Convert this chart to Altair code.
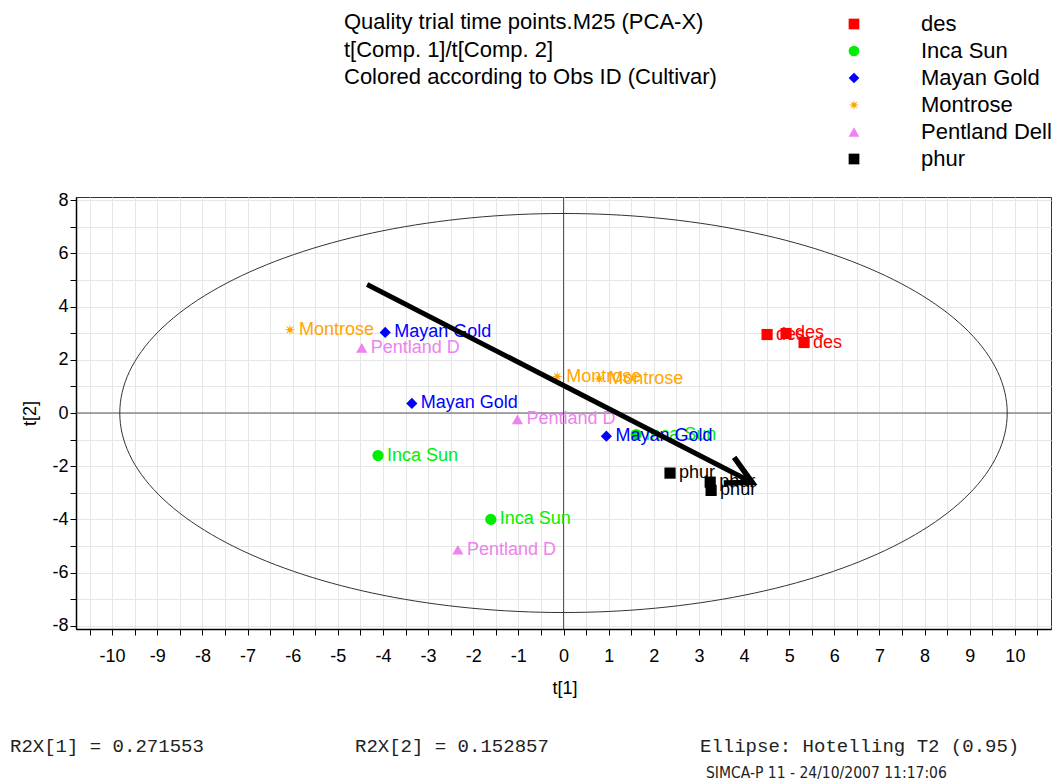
import altair as alt
import pandas as pd
import numpy as np

# ---- data ----
cultivars = ["des", "Inca Sun", "Mayan Gold", "Montrose", "Pentland Dell", "phur"]
colors = ["#FF0000", "#00EE00", "#0000FF", "#FFA500", "#EE82EE", "#000000"]

obs_cultivar = ["des", "des", "des",
                "Inca Sun", "Inca Sun", "Inca Sun",
                "Mayan Gold", "Mayan Gold", "Mayan Gold",
                "Montrose", "Montrose", "Montrose",
                "Pentland Dell", "Pentland Dell", "Pentland Dell",
                "phur", "phur", "phur"]
obs_label = ["des", "des", "des",
             "Inca Sun", "Inca Sun", "Inca Sun",
             "Mayan Gold", "Mayan Gold", "Mayan Gold",
             "Montrose", "Montrose", "Montrose",
             "Pentland D", "Pentland D", "Pentland D",
             "phur", "phur", "phur"]
t1 = [4.51, 4.93, 5.33,
      -4.11, -1.61, 1.61,
      -3.95, -3.36, 0.95,
      -6.06, -0.14, 0.79,
      -4.47, -1.02, -2.34,
      2.36, 3.25, 3.27]
t2 = [2.95, 2.99, 2.65,
      -1.60, -4.00, -0.81,
      3.03, 0.36, -0.87,
      3.13, 1.37, 1.29,
      2.45, -0.24, -5.14,
      -2.26, -2.60, -2.91]

ellipse_a = 9.83   # Hotelling T2 (0.95) semi-axis along t[1]
ellipse_b = 7.50   # semi-axis along t[2]

arrow_t1 = [-4.35, 4.18]
arrow_t2 = [4.83, -2.61]
head_t1 = [3.78, 4.18, 3.55]
head_t2 = [-1.67, -2.61, -2.63]

title_lines = ["Quality trial time points.M25 (PCA-X)",
               "t[Comp. 1]/t[Comp. 2]",
               "Colored according to Obs ID (Cultivar)"]
footer_r2x1 = "R2X[1] = 0.271553"
footer_r2x2 = "R2X[2] = 0.152857"
footer_ellipse = "Ellipse: Hotelling T2 (0.95)"
footer_stamp = "SIMCA-P 11 - 24/10/2007 11:17:06"

x_ticks = [i / 2 for i in range(-21, 22)]
y_ticks = list(range(-8, 9))

# ---- styling helpers ----
def star_path(n=8, inner=0.35):
    pts = []
    for k in range(2 * n):
        ang = k * np.pi / n - np.pi / 2
        r = 1.0 if k % 2 == 0 else inner
        pts.append(f"{r*np.cos(ang):.3f},{r*np.sin(ang):.3f}")
    return "M" + "L".join(pts) + "Z"

shapes = ["square", "circle", "diamond", star_path(), "triangle-up", "square"]
color_map = dict(zip(cultivars, colors))

FONT = "Liberation Sans"

df = pd.DataFrame({"t1": t1, "t2": t2, "Cultivar": obs_cultivar,
                   "Label": obs_label})
df["col"] = df["Cultivar"].map(color_map)

theta = np.linspace(0, 2 * np.pi, 241)
ell = pd.DataFrame({"t1": ellipse_a * np.cos(theta),
                    "t2": ellipse_b * np.sin(theta),
                    "i": np.arange(len(theta))})

arrow = pd.DataFrame({"t1": arrow_t1, "t2": arrow_t2, "i": [0, 1]})
head = pd.DataFrame({"t1": head_t1, "t2": head_t2, "i": [0, 1, 2]})

xscale = alt.Scale(domain=[-10.8, 10.8], nice=False, zero=False)
yscale = alt.Scale(domain=[-8.12, 8.12], nice=False, zero=False)

xaxis = alt.Axis(values=x_ticks,
                 labelExpr="datum.value % 1 == 0 ? '' + datum.value : ''",
                 title="t[1]", titleX=488.5, titleY=59, titleAlign="center",
                 titleBaseline="middle")
yaxis = alt.Axis(values=y_ticks,
                 labelExpr="datum.value % 2 == 0 ? '' + datum.value : ''",
                 title="t[2]", titleX=-46, titleY=216, titleAlign="center",
                 titleBaseline="middle", titleAngle=270)

X = alt.X("t1:Q", scale=xscale, axis=xaxis)
Y = alt.Y("t2:Q", scale=yscale, axis=yaxis)

zero_x = alt.Chart(pd.DataFrame({"t1": [0.0]})).mark_rule(
    color="#555555", strokeWidth=1).encode(x=alt.X("t1:Q", scale=xscale, axis=xaxis))
zero_y = alt.Chart(pd.DataFrame({"t2": [0.0]})).mark_rule(
    color="#555555", strokeWidth=1).encode(y=alt.Y("t2:Q", scale=yscale, axis=yaxis))

ellipse = alt.Chart(ell).mark_line(color="#333333", strokeWidth=1).encode(
    x=X, y=Y, order="i:Q")

legend = alt.Legend(orient="none", legendX=767, legendY=-184, title=None,
                    labelFont=FONT, labelFontSize=22, labelColor="#000000",
                    symbolSize=115, labelOffset=56, rowPadding=5, padding=0,
                    symbolStrokeWidth=0, symbolOpacity=1)

points = alt.Chart(df).mark_point(filled=True, size=125, opacity=1,
                                  strokeWidth=0).encode(
    x=X, y=Y,
    color=alt.Color("Cultivar:N", scale=alt.Scale(domain=cultivars, range=colors),
                    legend=legend),
    shape=alt.Shape("Cultivar:N", scale=alt.Scale(domain=cultivars, range=shapes),
                    legend=legend),
)

labels = alt.Chart(df).mark_text(align="left", baseline="middle", dx=9,
                                 font=FONT, fontSize=18).encode(
    x=X, y=Y, text="Label:N", color=alt.Color("col:N", scale=None))

arrow_line = alt.Chart(arrow).mark_line(color="#000000", strokeWidth=5,
                                        strokeCap="butt").encode(x=X, y=Y, order="i:Q")
arrow_head = alt.Chart(head).mark_line(color="#000000", strokeWidth=5.5,
                                       strokeJoin="miter", strokeCap="butt").encode(
    x=X, y=Y, order="i:Q")

one = pd.DataFrame({"a": [0]})
title = alt.Chart(one).mark_text(text=title_lines, align="left", baseline="middle",
                                 lineHeight=27.5, font=FONT, fontSize=22,
                                 color="#000000").encode(
    x=alt.value(268), y=alt.value(-175))

def foot(txt, x, y, font, size):
    return alt.Chart(one).mark_text(text=txt, align="left", baseline="middle",
                                    font=font, fontSize=size, color="#222222").encode(
        x=alt.value(x), y=alt.value(y))

f1 = foot(footer_r2x1, -66, 549, "Liberation Mono", 19)
f2 = foot(footer_r2x2, 279, 549, "Liberation Mono", 19)
f3 = foot(footer_ellipse, 624, 549, "Liberation Mono", 19)
f4 = foot(footer_stamp, 630, 576, "Liberation Sans Narrow, DejaVu Sans Condensed, sans-serif", 15.5)

chart = alt.layer(zero_x, zero_y, ellipse, points, labels, arrow_line, arrow_head,
                  title, f1, f2, f3, f4).properties(
    width=975, height=432,
    autosize=alt.AutoSizeParams(type="none"),
    padding={"left": 76, "top": 197, "right": 2, "bottom": 154},
    background="white",
).configure_view(stroke="#333333", strokeWidth=1).configure_axis(
    grid=True, gridColor="#E6E6E6", gridWidth=1,
    domainColor="#000000", domainWidth=1.5,
    tickColor="#000000", tickSize=6, tickWidth=1,
    labelFont=FONT, labelFontSize=18, labelColor="#000000",
    titleFont=FONT, titleFontSize=18, titleFontWeight="normal", titleColor="#000000",
).configure_axisX(labelPadding=12).configure_axisY(labelPadding=2)

chart.save("out.html", embed_options={"renderer": "svg", "actions": False})
